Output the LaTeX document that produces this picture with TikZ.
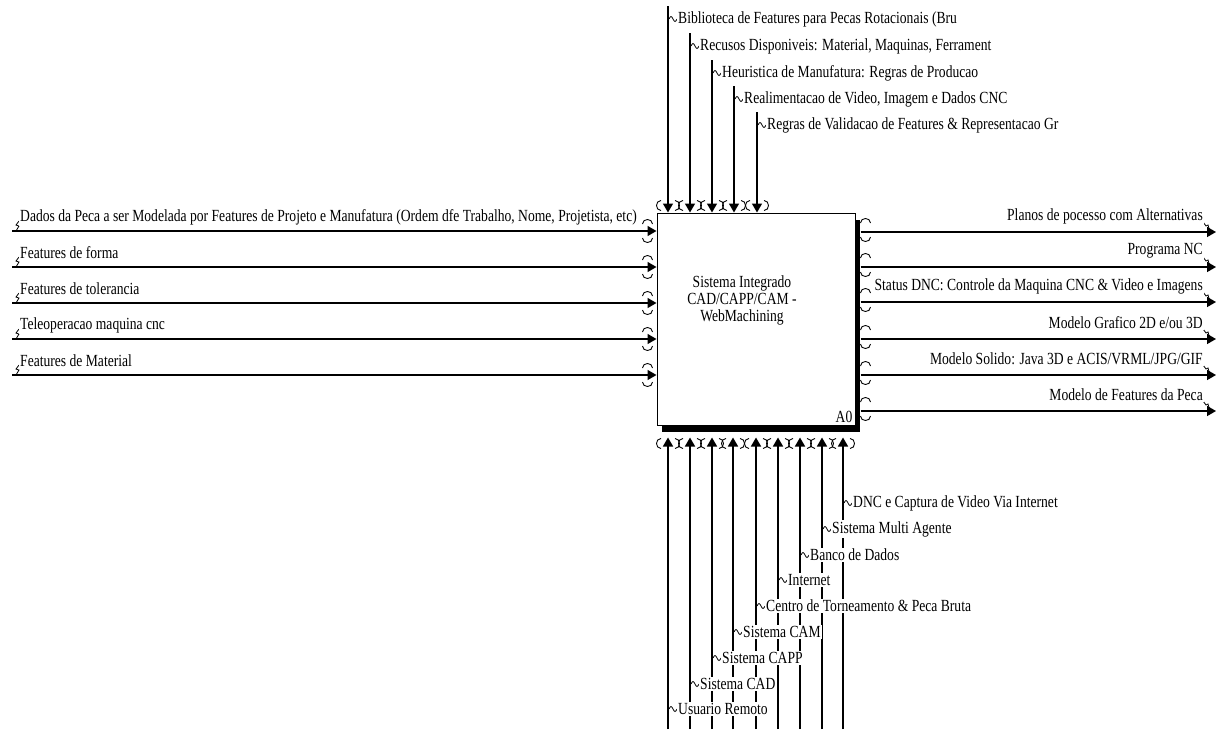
\documentclass[tikz,border=0pt]{standalone}
\usepackage{fontspec}
\setmainfont{Liberation Serif}[FakeStretch=0.8]
\usetikzlibrary{arrows.meta, positioning, calc, shadows}

\begin{document}
\begin{tikzpicture}[
  x=1pt, y=-1pt,
  >={Triangle[length=9pt, width=10pt]},
  actbox/.style={draw, line width=1pt, fill=white, minimum width=198pt,
    minimum height=212pt, inner sep=0pt,
    general shadow={fill=black, shadow xshift=5pt, shadow yshift=-7pt}},
  arr/.style={->, line width=1.5pt},
  lbl/.style={font=\fontsize{17}{19}\selectfont, inner sep=1pt, fill=white},
  wave/.pic={\draw[line width=0.8pt] (0,0) sin (2,-2.5) cos (4,0) sin (6,2.5) cos (8,0);},
  boltl/.pic={\draw[line width=0.8pt] (0,0) -- (-3,4) -- (0,5) -- (-3,10);},
  boltr/.pic={\draw[line width=0.8pt] (0,0) -- (3,4) -- (5,3) -- (7,10);},
  tunh/.pic={\draw[line width=0.9pt] (-5,-7) .. controls (-5,-13) and (5,-13) .. (5,-7);
    \draw[line width=0.9pt] (-5,7) .. controls (-5,13) and (5,13) .. (5,7);},
  tunv/.pic={\draw[line width=0.9pt] (-7,-5) .. controls (-13,-5) and (-13,5) .. (-7,5);
    \draw[line width=0.9pt] (7,-5) .. controls (13,-5) and (13,5) .. (7,5);},
]
\useasboundingbox (0,0) rectangle (1218,729);

% =============================================
% Activity box A0
% =============================================
\node[actbox] (a0) at (756,319) {};
\node[font=\fontsize{17}{17}\selectfont, align=center] (a0txt) at (742,300)
  {Sistema Integrado\\ CAD/CAPP/CAM -\\ WebMachining};
\node[font=\fontsize{17}{17}\selectfont, anchor=south east, inner sep=3pt] (a0num)
  at (a0.south east) {A0};

% =============================================
% Inputs (left)
% =============================================
\coordinate (i1) at (12,231);
\coordinate (i2) at (12,267);
\coordinate (i3) at (12,303);
\coordinate (i4) at (12,339);
\coordinate (i5) at (12,375);
\draw[arr] (i1) -- (i1 -| a0.west);
\draw[arr] (i2) -- (i2 -| a0.west);
\draw[arr] (i3) -- (i3 -| a0.west);
\draw[arr] (i4) -- (i4 -| a0.west);
\draw[arr] (i5) -- (i5 -| a0.west);
\pic at ([xshift=-9pt]i1 -| a0.west) {tunh};
\pic at ([xshift=-9pt]i2 -| a0.west) {tunh};
\pic at ([xshift=-9pt]i3 -| a0.west) {tunh};
\pic at ([xshift=-9pt]i4 -| a0.west) {tunh};
\pic at ([xshift=-9pt]i5 -| a0.west) {tunh};
\pic at ($(i1)+(7,-10)$) {boltl};
\pic at ($(i2)+(7,-10)$) {boltl};
\pic at ($(i3)+(7,-10)$) {boltl};
\pic at ($(i4)+(7,-10)$) {boltl};
\pic at ($(i5)+(7,-10)$) {boltl};
\node[lbl, anchor=west] (li1) at ($(i1)+(7,-14)$)
  {Dados da Peca a ser Modelada por Features de Projeto e Manufatura (Ordem dfe Trabalho, Nome, Projetista, etc)};
\node[lbl, anchor=west] (li2) at ($(i2)+(7,-14)$) {Features de forma};
\node[lbl, anchor=west] (li3) at ($(i3)+(7,-14)$) {Features de tolerancia};
\node[lbl, anchor=west] (li4) at ($(i4)+(7,-14)$) {Teleoperacao maquina cnc};
\node[lbl, anchor=west] (li5) at ($(i5)+(7,-14)$) {Features de Material};

% =============================================
% Outputs (right)
% =============================================
\coordinate (o1) at (1216,232);
\coordinate (o2) at (1216,267);
\coordinate (o3) at (1216,302);
\coordinate (o4) at (1216,339);
\coordinate (o5) at (1216,375);
\coordinate (o6) at (1216,411);
\draw[arr] ([xshift=5pt]o1 -| a0.east) -- (o1);
\draw[arr] ([xshift=5pt]o2 -| a0.east) -- (o2);
\draw[arr] ([xshift=5pt]o3 -| a0.east) -- (o3);
\draw[arr] ([xshift=5pt]o4 -| a0.east) -- (o4);
\draw[arr] ([xshift=5pt]o5 -| a0.east) -- (o5);
\draw[arr] ([xshift=5pt]o6 -| a0.east) -- (o6);
\pic at ([xshift=10pt, yshift=2pt]o1 -| a0.east) {tunh};
\pic at ([xshift=10pt, yshift=2pt]o2 -| a0.east) {tunh};
\pic at ([xshift=10pt, yshift=2pt]o3 -| a0.east) {tunh};
\pic at ([xshift=10pt, yshift=2pt]o4 -| a0.east) {tunh};
\pic at ([xshift=10pt, yshift=2pt]o5 -| a0.east) {tunh};
\pic at ([xshift=10pt, yshift=2pt]o6 -| a0.east) {tunh};
\pic at ($(o1)+(-13,-10)$) {boltr};
\pic at ($(o2)+(-13,-10)$) {boltr};
\pic at ($(o3)+(-13,-10)$) {boltr};
\pic at ($(o4)+(-13,-10)$) {boltr};
\pic at ($(o5)+(-13,-10)$) {boltr};
\pic at ($(o6)+(-13,-10)$) {boltr};
\node[lbl, anchor=east] (lo1) at ($(o1)+(-12,-16)$) {Planos de pocesso com Alternativas};
\node[lbl, anchor=east] (lo2) at ($(o2)+(-12,-16)$) {Programa NC};
\node[lbl, anchor=east] (lo3) at ($(o3)+(-12,-16)$)
  {Status DNC: Controle da Maquina CNC \& Video e Imagens};
\node[lbl, anchor=east] (lo4) at ($(o4)+(-12,-16)$) {Modelo Grafico 2D e/ou 3D};
\node[lbl, anchor=east] (lo5) at ($(o5)+(-12,-16)$) {Modelo Solido: Java 3D e ACIS/VRML/JPG/GIF};
\node[lbl, anchor=east] (lo6) at ($(o6)+(-12,-16)$) {Modelo de Features da Peca};

% =============================================
% Controls (top)
% =============================================
\coordinate (c1) at (668,6);
\coordinate (c2) at (690,33);
\coordinate (c3) at (712,60);
\coordinate (c4) at (734,86);
\coordinate (c5) at (757,112);
\draw[arr] (c1) -- (c1 |- a0.north);
\draw[arr] (c2) -- (c2 |- a0.north);
\draw[arr] (c3) -- (c3 |- a0.north);
\draw[arr] (c4) -- (c4 |- a0.north);
\draw[arr] (c5) -- (c5 |- a0.north);
\pic at ([yshift=7pt]c1 |- a0.north) {tunv};
\pic at ([yshift=7pt]c2 |- a0.north) {tunv};
\pic at ([yshift=7pt]c3 |- a0.north) {tunv};
\pic at ([yshift=7pt]c4 |- a0.north) {tunv};
\pic at ([yshift=7pt]c5 |- a0.north) {tunv};
\pic at ($(c1)+(1,13)$) {wave};
\pic at ($(c2)+(1,13)$) {wave};
\pic at ($(c3)+(1,13)$) {wave};
\pic at ($(c4)+(1,13)$) {wave};
\pic at ($(c5)+(1,13)$) {wave};
\node[lbl, anchor=west] (lc1) at ($(c1)+(9,13)$) {Biblioteca de Features para Pecas Rotacionais (Bru};
\node[lbl, anchor=west] (lc2) at ($(c2)+(9,13)$) {Recusos Disponiveis: Material, Maquinas, Ferrament};
\node[lbl, anchor=west] (lc3) at ($(c3)+(9,13)$) {Heuristica de Manufatura: Regras de Producao};
\node[lbl, anchor=west] (lc4) at ($(c4)+(9,13)$) {Realimentacao de Video, Imagem e Dados CNC};
\node[lbl, anchor=west] (lc5) at ($(c5)+(9,13)$) {Regras de Validacao de Features \& Representacao Gr};

% =============================================
% Mechanisms (bottom)
% =============================================
\coordinate (m1) at (668,729);
\coordinate (m2) at (690,729);
\coordinate (m3) at (712,729);
\coordinate (m4) at (733,729);
\coordinate (m5) at (756,729);
\coordinate (m6) at (778,729);
\coordinate (m7) at (800,729);
\coordinate (m8) at (822,729);
\coordinate (m9) at (843,729);
\draw[arr] (m1) -- ([yshift=-12pt]m1 |- a0.south);
\draw[arr] (m2) -- ([yshift=-12pt]m2 |- a0.south);
\draw[arr] (m3) -- ([yshift=-12pt]m3 |- a0.south);
\draw[arr] (m4) -- ([yshift=-12pt]m4 |- a0.south);
\draw[arr] (m5) -- ([yshift=-12pt]m5 |- a0.south);
\draw[arr] (m6) -- ([yshift=-12pt]m6 |- a0.south);
\draw[arr] (m7) -- ([yshift=-12pt]m7 |- a0.south);
\draw[arr] (m8) -- ([yshift=-12pt]m8 |- a0.south);
\draw[arr] (m9) -- ([yshift=-12pt]m9 |- a0.south);
\pic at ([yshift=-18pt]m1 |- a0.south) {tunv};
\pic at ([yshift=-18pt]m2 |- a0.south) {tunv};
\pic at ([yshift=-18pt]m3 |- a0.south) {tunv};
\pic at ([yshift=-18pt]m4 |- a0.south) {tunv};
\pic at ([yshift=-18pt]m5 |- a0.south) {tunv};
\pic at ([yshift=-18pt]m6 |- a0.south) {tunv};
\pic at ([yshift=-18pt]m7 |- a0.south) {tunv};
\pic at ([yshift=-18pt]m8 |- a0.south) {tunv};
\pic at ([yshift=-18pt]m9 |- a0.south) {tunv};
\pic at ($(m1)+(1,-20)$) {wave};
\pic at ($(m2)+(1,-45)$) {wave};
\pic at ($(m3)+(1,-71)$) {wave};
\pic at ($(m4)+(1,-97)$) {wave};
\pic at ($(m5)+(1,-123)$) {wave};
\pic at ($(m6)+(1,-149)$) {wave};
\pic at ($(m7)+(1,-174)$) {wave};
\pic at ($(m8)+(1,-200)$) {wave};
\pic at ($(m9)+(1,-226)$) {wave};
\node[lbl, anchor=west] (lm1) at ($(m1)+(9,-20)$) {Usuario Remoto};
\node[lbl, anchor=west] (lm2) at ($(m2)+(9,-45)$) {Sistema CAD};
\node[lbl, anchor=west] (lm3) at ($(m3)+(9,-71)$) {Sistema CAPP};
\node[lbl, anchor=west] (lm4) at ($(m4)+(9,-97)$) {Sistema CAM};
\node[lbl, anchor=west] (lm5) at ($(m5)+(9,-123)$) {Centro de Torneamento \& Peca Bruta};
\node[lbl, anchor=west] (lm6) at ($(m6)+(9,-149)$) {Internet};
\node[lbl, anchor=west] (lm7) at ($(m7)+(9,-174)$) {Banco de Dados};
\node[lbl, anchor=west] (lm8) at ($(m8)+(9,-200)$) {Sistema Multi Agente};
\node[lbl, anchor=west] (lm9) at ($(m9)+(9,-226)$) {DNC e Captura de Video Via Internet};

\end{tikzpicture}
\end{document}
